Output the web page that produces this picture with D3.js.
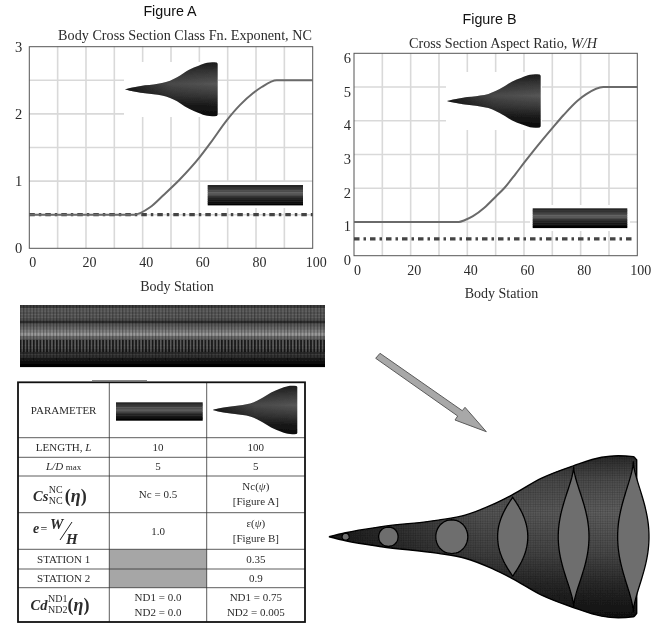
<!DOCTYPE html>
<html>
<head>
<meta charset="utf-8">
<script src="https://cdn.jsdelivr.net/npm/d3@7"></script>
<style>
  html, body { margin: 0; padding: 0; background: #fff; }
  text { font-family: "Liberation Serif", serif; fill: #2b2b2b; }
  svg { filter: blur(0.3px); }
</style>
</head>
<body>
<script>
// values
var bodyStations = [0, 5.4, 17.1, 35.5, 44.2, 52.9, 59.4, 69.1, 79.4, 88.6, 94, 98.9, 100];

var stationA = [0, 37, 42.6, 47.3, 53, 60.2, 63.8, 69.6, 74.3, 79, 82, 87.3, 100];
var nonCircularA = [0.5, 0.5, 0.61, 0.79, 1.02, 1.36, 1.56, 1.9, 2.13, 2.31, 2.4, 2.5, 2.5];
var stationB = [0, 37, 39, 42, 46, 50, 53, 57, 60, 63, 66, 70, 74, 79, 82, 88, 100];
var aspectB = [1, 1, 1.05, 1.17, 1.42, 1.75, 2.0, 2.42, 2.75, 3.07, 3.38, 3.78, 4.17, 4.6, 4.79, 5, 5];
var baselineEnd = [0, 100];
var baselineA = [0.5, 0.5];
var baselineBEnd = [0, 98];
var baselineB = [0.5, 0.5];

var xTicks = [0, 20, 40, 60, 80, 100];
var xGrid = [10, 20, 30, 40, 50, 60, 70, 80, 90];
var yTicksA = [0, 1, 2, 3];
var yGridA = [0.5, 1, 1.5, 2, 2.5];
var yTicksB = [0, 1, 2, 3, 4, 5, 6];
var yGridB = [1, 2, 3, 4, 5];

// half height of the body, same units as station
var bodyHalf = [0, 1.3, 3.25, 5.4, 7, 10.3, 13.5, 19, 23, 25.8, 26.3, 26, 24.9];

// cross sections on the big body
var sectionStation = [5.4, 19.3, 39.9, 59.7, 79.5, 98.9];
var sectionHalfH = [1.15, 3.15, 5.5, 12.8, 22.8, 24.5];
var sectionHalfW = [1.15, 3.15, 5.2, 4.9, 5, 5.1];
var sectionExp = [0.5, 0.5, 0.5, 1.05, 1.7, 1.7];

var tableLabels = ['PARAMETER', 'LENGTH, <tspan font-style="italic">L</tspan>', '<tspan font-style="italic">L/D</tspan> <tspan font-size="9">max</tspan>', '', '', 'STATION 1', 'STATION 2', ''];
var tableCol1 = [[], ['10'], ['5'], ['Nc = 0.5'], ['1.0'], [], [], ['ND1 = 0.0', 'ND2 = 0.0']];
var tableCol2 = [[], ['100'], ['5'], ['Nc(<tspan font-style="italic">ψ</tspan>)', '[Figure A]'], ['ε(<tspan font-style="italic">ψ</tspan>)', '[Figure B]'], ['0.35'], ['0.9'], ['ND1 = 0.75', 'ND2 = 0.005']];
var rowEdges = [382.3, 437.7, 457.3, 476, 512.7, 549.3, 569, 587.7, 622];
var colEdges = [18, 109.3, 206.7, 305];

// gray levels of the flat plate, top to bottom
var plateBands = ['#3c3c3c', '#5c5c5c', '#555555', '#565656', '#505050', '#2e2e2e', '#5a5a5a', '#6a6a6a', '#808080', '#9a9a9a', '#6a6a6a', '#585858', '#585858', '#555555', '#4a4a4a', '#2c2c2c', '#303030', '#181818', '#101010', '#060606'];
var stripBands = ['#262626', '#303030', '#3c3c3c', '#4c4c4c', '#585858', '#4e4e4e', '#343434', '#242424', '#161616', '#0c0c0c', '#040404'];

var svg = d3.select('body').append('svg').attr('width', 663).attr('height', 623);
var defs = svg.append('defs');

function vGradient(id, stops) {
  var g = defs.append('linearGradient').attr('id', id).attr('x1', 0).attr('x2', 0).attr('y1', 0).attr('y2', 1);
  stops.forEach(function(s) { g.append('stop').attr('offset', s[0]).attr('stop-color', s[1]); });
}
vGradient('thumbGrad', [[0, '#1c1c1c'], [0.2, '#3a3a3a'], [0.4, '#565656'], [0.6, '#3a3a3a'], [0.8, '#1a1a1a'], [1, '#0a0a0a']]);
vGradient('bigGrad', [[0, '#2a2a2a'], [0.15, '#4e4e4e'], [0.35, '#626262'], [0.6, '#4a4a4a'], [0.8, '#2a2a2a'], [1, '#101010']]);

// nose is much darker than the base
var noseFade = defs.append('linearGradient').attr('id', 'noseFade');
noseFade.append('stop').attr('offset', 0).attr('stop-color', '#000').attr('stop-opacity', 0.7);
noseFade.append('stop').attr('offset', 0.5).attr('stop-color', '#000').attr('stop-opacity', 0.15);
noseFade.append('stop').attr('offset', 1).attr('stop-color', '#000').attr('stop-opacity', 0);

var mesh = defs.append('pattern').attr('id', 'mesh').attr('width', 2.4).attr('height', 2.4).attr('patternUnits', 'userSpaceOnUse');
mesh.append('path').attr('d', 'M0 0V2.4M0 0H2.4').attr('stroke', '#000').attr('stroke-opacity', 0.3).attr('stroke-width', 0.7);

var ticksPat = defs.append('pattern').attr('id', 'plateTicks').attr('width', 3.3).attr('height', 3).attr('patternUnits', 'userSpaceOnUse');
ticksPat.append('rect').attr('width', 1.2).attr('height', 3).attr('fill', '#000').attr('opacity', 0.3);
var stripesPat = defs.append('pattern').attr('id', 'plateStripes').attr('width', 3.3).attr('height', 3).attr('patternUnits', 'userSpaceOnUse');
stripesPat.append('rect').attr('width', 1.6).attr('height', 3).attr('fill', '#000').attr('opacity', 0.65);

var soft = defs.append('filter').attr('id', 'soft').attr('x', '-2%').attr('y', '-2%').attr('width', '104%').attr('height', '104%');
soft.append('feGaussianBlur').attr('stdDeviation', 0.35);

// tapered body thumbnail
function drawBody(g, x0, x1, yc, half) {
  var x = d3.scaleLinear().domain([0, 100]).range([x0, x1]);
  var h = d3.scaleLinear().domain([0, d3.max(bodyHalf)]).range([0, half]);
  var area = d3.area()
    .x(function(d) { return x(d); })
    .y0(function(d, i) { return yc - h(bodyHalf[i]); })
    .y1(function(d, i) { return yc + h(bodyHalf[i]); })
    .curve(d3.curveMonotoneX);
  g.append('path').attr('d', area(bodyStations)).attr('fill', 'url(#thumbGrad)');
  g.append('path').attr('d', area(bodyStations)).attr('fill', 'url(#noseFade)');
}

function drawStrip(g, x0, x1, y0, y1, bands) {
  var y = d3.scaleBand().domain(d3.range(bands.length)).range([y0, y1]);
  g.selectAll(null).data(bands).enter().append('rect')
    .attr('x', x0).attr('width', x1 - x0)
    .attr('y', function(d, i) { return y(i); })
    .attr('height', y.bandwidth() + 0.4)
    .attr('fill', function(d) { return d; });
}

function drawChart(o) {
  var g = svg.append('g');
  var x = d3.scaleLinear().domain([0, 100]).range([o.left, o.right]);
  var y = d3.scaleLinear().domain(o.yDomain).range([o.bottom, o.top]);

  g.selectAll('.gx').data(xGrid).enter().append('line')
    .attr('x1', x).attr('x2', x).attr('y1', o.top).attr('y2', o.bottom)
    .attr('stroke', '#d9d9d9').attr('stroke-width', 1.6);
  g.selectAll('.gy').data(o.yGrid).enter().append('line')
    .attr('y1', y).attr('y2', y).attr('x1', o.left).attr('x2', o.right)
    .attr('stroke', '#d9d9d9').attr('stroke-width', 1.6);

  // white boxes behind the insets
  g.append('rect').attr('x', o.inset[0]).attr('y', o.inset[1]).attr('width', o.inset[2]).attr('height', o.inset[3]).attr('fill', '#fff');
  g.append('rect').attr('x', o.halo[0]).attr('y', o.halo[1]).attr('width', o.halo[2]).attr('height', o.halo[3]).attr('fill', '#fff');

  var xAxis = d3.axisBottom(x).tickValues(xTicks).tickSize(0).tickPadding(9);
  var yAxis = d3.axisLeft(y).tickValues(o.yTicks).tickSize(0).tickPadding(o.yPad).tickFormat(d3.format('d'));
  var ax = g.append('g').attr('transform', 'translate(0,' + o.bottom + ')').call(xAxis);
  var ay = g.append('g').attr('transform', 'translate(' + o.left + ',0)').call(yAxis);
  ax.select('.domain').remove();
  ay.select('.domain').remove();
  ax.selectAll('text').attr('dx', 3).style('font-size', '14px').style('font-family', '"Liberation Serif"');
  ay.selectAll('text').attr('dy', o.yDy).style('font-size', '14.5px').style('font-family', '"Liberation Serif"');

  g.append('rect').attr('x', o.left).attr('y', o.top).attr('width', o.right - o.left).attr('height', o.bottom - o.top)
    .attr('fill', 'none').attr('stroke', '#555').attr('stroke-width', 1);

  var dash = d3.line().x(function(d) { return x(d); }).y(function(d, i) { return y(o.dashY[i]); });
  g.append('path').attr('d', dash(o.dashX)).attr('fill', 'none').attr('stroke', '#444')
    .attr('stroke-width', 3.2).attr('stroke-dasharray', '5.5,4,2.5,4');

  var line = d3.line().x(function(d) { return x(d); }).y(function(d, i) { return y(o.values[i]); }).curve(d3.curveMonotoneX);
  g.append('path').attr('d', line(o.stations)).attr('fill', 'none').attr('stroke', '#6a6a6a').attr('stroke-width', 2);

  g.append('text').attr('x', o.figX).attr('y', o.figY).attr('text-anchor', 'middle')
    .style('font-family', '"Liberation Sans"').style('font-size', '14.3px').style('fill', '#111').text(o.figure);
  g.append('text').attr('x', o.titleX).attr('y', o.titleY).attr('text-anchor', 'middle')
    .style('font-size', '14.2px').html(o.title);
  g.append('text').attr('x', o.labelX).attr('y', o.labelY).attr('text-anchor', 'middle')
    .style('font-size', '14px').text('Body Station');
}

drawChart({
  left: 29.3, right: 312.7, top: 46.7, bottom: 248.3, yDomain: [0, 3],
  yTicks: yTicksA, yGrid: yGridA, inset: [124, 62, 94, 55], halo: [205, 182, 100, 26], yPad: 7, yDy: '0.32em',
  stations: stationA, values: nonCircularA, dashX: baselineEnd, dashY: baselineA,
  figure: 'Figure A', figX: 170, figY: 16,
  title: 'Body Cross Section Class Fn. Exponent, NC', titleX: 185, titleY: 40,
  labelX: 177, labelY: 291
});
drawChart({
  left: 354, right: 637.3, top: 53.3, bottom: 255.7, yDomain: [0, 6],
  yTicks: yTicksB, yGrid: yGridB, inset: [446, 72, 96, 58], halo: [530, 205, 100, 26], yPad: 3, yDy: '0.62em',
  stations: stationB, values: aspectB, dashX: baselineBEnd, dashY: baselineB,
  figure: 'Figure B', figX: 489.5, figY: 24,
  title: 'Cross Section Aspect Ratio,  <tspan font-style="italic">W/H</tspan>', titleX: 503, titleY: 48,
  labelX: 501.5, labelY: 298
});

var insets = svg.append('g').attr('filter', 'url(#soft)');
drawBody(insets, 125, 217.7, 89.3, 27);
drawBody(insets, 447, 540.7, 101, 26.7);
drawStrip(insets, 207.7, 303, 185, 205, stripBands);
drawStrip(insets, 532.7, 627.3, 208.3, 227.7, stripBands);

// flat plate under figure A
var plate = svg.append('g').attr('filter', 'url(#soft)');
drawStrip(plate, 20, 325, 305, 366.7, plateBands);
plate.append('rect').attr('x', 20).attr('y', 305).attr('width', 305).attr('height', 61.7).attr('fill', 'url(#plateTicks)');
plate.append('rect').attr('x', 20).attr('y', 340).attr('width', 305).attr('height', 12).attr('fill', 'url(#plateStripes)');

svg.append('line').attr('x1', 92).attr('x2', 147).attr('y1', 380.5).attr('y2', 380.5).attr('stroke', '#888').attr('stroke-width', 1);

// table
var table = svg.append('g');
[5, 6].forEach(function(i) {
  table.append('rect').attr('x', colEdges[1]).attr('y', rowEdges[i]).attr('width', colEdges[2] - colEdges[1])
    .attr('height', rowEdges[i + 1] - rowEdges[i]).attr('fill', '#a6a6a6');
});
rowEdges.slice(1, -1).forEach(function(v) {
  table.append('line').attr('x1', colEdges[0]).attr('x2', colEdges[3]).attr('y1', v).attr('y2', v).attr('stroke', '#333').attr('stroke-width', 0.8);
});
colEdges.slice(1, -1).forEach(function(v) {
  table.append('line').attr('x1', v).attr('x2', v).attr('y1', rowEdges[0]).attr('y2', rowEdges[8]).attr('stroke', '#333').attr('stroke-width', 0.8);
});
table.append('rect').attr('x', colEdges[0]).attr('y', rowEdges[0]).attr('width', colEdges[3] - colEdges[0])
  .attr('height', rowEdges[8] - rowEdges[0]).attr('fill', 'none').attr('stroke', '#111').attr('stroke-width', 1.8);

function cellText(lines, cx, i) {
  var mid = (rowEdges[i] + rowEdges[i + 1]) / 2;
  var step = 15;
  lines.forEach(function(s, k) {
    table.append('text').attr('x', cx).attr('text-anchor', 'middle')
      .attr('y', mid + 3.6 + (k - (lines.length - 1) / 2) * step)
      .style('font-size', '11px').html(s);
  });
}
tableLabels.forEach(function(s, i) {
  if (s) cellText([s], (colEdges[0] + colEdges[1]) / 2, i);
  cellText(tableCol1[i], (colEdges[1] + colEdges[2]) / 2, i);
  cellText(tableCol2[i], (colEdges[2] + colEdges[3]) / 2, i);
});

var thumbs = svg.append('g').attr('filter', 'url(#soft)');
drawStrip(thumbs, 116, 202.7, 402.3, 420.3, stripBands);
drawBody(thumbs, 212.7, 297.3, 410, 24.3);

// formulas in the first column
function formula(base, sup, sub, x, y, gap, supW) {
  table.append('text').attr('x', x).attr('y', y).style('font-weight', 'bold').style('font-style', 'italic')
    .style('font-size', '14.5px').text(base);
  var xAfter = x + gap;
  table.append('text').attr('x', xAfter).attr('y', y - 8).style('font-size', '10px').text(sup);
  table.append('text').attr('x', xAfter).attr('y', y + 3).style('font-size', '10px').text(sub);
  var t2 = table.append('text').attr('x', xAfter + supW).attr('y', y + 1).style('font-weight', 'bold').style('font-size', '18px');
  t2.append('tspan').text('(');
  t2.append('tspan').style('font-style', 'italic').text('η');
  t2.append('tspan').text(')');
}
formula('Cs', 'NC', 'NC', 33, 501, 15.8, 16);
formula('Cd', 'ND1', 'ND2', 30.5, 610, 17.5, 19.5);

table.append('text').attr('x', 33).attr('y', 533).style('font-size', '14px').style('font-weight', 'bold').style('font-style', 'italic').text('e');
table.append('text').attr('x', 40.5).attr('y', 533).style('font-size', '12px').text('=');
table.append('text').attr('x', 50).attr('y', 529).style('font-size', '15px').style('font-weight', 'bold').style('font-style', 'italic').text('W');
table.append('text').attr('x', 66).attr('y', 543.5).style('font-size', '15px').style('font-weight', 'bold').style('font-style', 'italic').text('H');
table.append('line').attr('x1', 60).attr('y1', 540).attr('x2', 72).attr('y2', 522).attr('stroke', '#222').attr('stroke-width', 1);

// arrow
var arrowPoints = [[375.7, 358.3], [380, 353.3], [462.3, 410.7], [465, 407.3], [486.3, 431.7], [455, 420], [457.7, 416]];
svg.append('path').attr('d', d3.line()(arrowPoints) + 'Z').attr('fill', '#a8a8a8').attr('stroke', '#5a5a5a').attr('stroke-width', 1);

// big body with sections
var big = svg.append('g').attr('filter', 'url(#soft)');
var bigX = d3.scaleLinear().domain([0, 100]).range([329, 636.7]);
var bigH = d3.scaleLinear().domain([0, 26.3]).range([0, 81]);
var bigY = 536.7;
var bigArea = d3.area()
  .x(function(d) { return bigX(d); })
  .y0(function(d, i) { return bigY - bigH(bodyHalf[i]); })
  .y1(function(d, i) { return bigY + bigH(bodyHalf[i]); })
  .curve(d3.curveMonotoneX);
big.append('path').attr('d', bigArea(bodyStations)).attr('fill', 'url(#bigGrad)');
big.append('path').attr('d', bigArea(bodyStations)).attr('fill', 'url(#noseFade)');
big.append('path').attr('d', bigArea(bodyStations)).attr('fill', 'url(#mesh)').attr('stroke', '#000').attr('stroke-width', 1.4);

var etas = d3.range(0, 1.0001, 0.02);
sectionStation.forEach(function(st, k) {
  var w = bigX(sectionHalfW[k]) - bigX(0);
  var h = bigH(sectionHalfH[k]);
  var pts = etas.map(function(e) {
    return [bigX(st) + w * Math.pow(4 * e * (1 - e), sectionExp[k]), bigY - h + 2 * e * h];
  }).concat(etas.slice().reverse().map(function(e) {
    return [bigX(st) - w * Math.pow(4 * e * (1 - e), sectionExp[k]), bigY - h + 2 * e * h];
  }));
  big.append('path').attr('d', d3.line()(pts) + 'Z').attr('fill', '#6e6e6e').attr('stroke', '#000').attr('stroke-width', 1.3);
});
</script>
</body>
</html>
